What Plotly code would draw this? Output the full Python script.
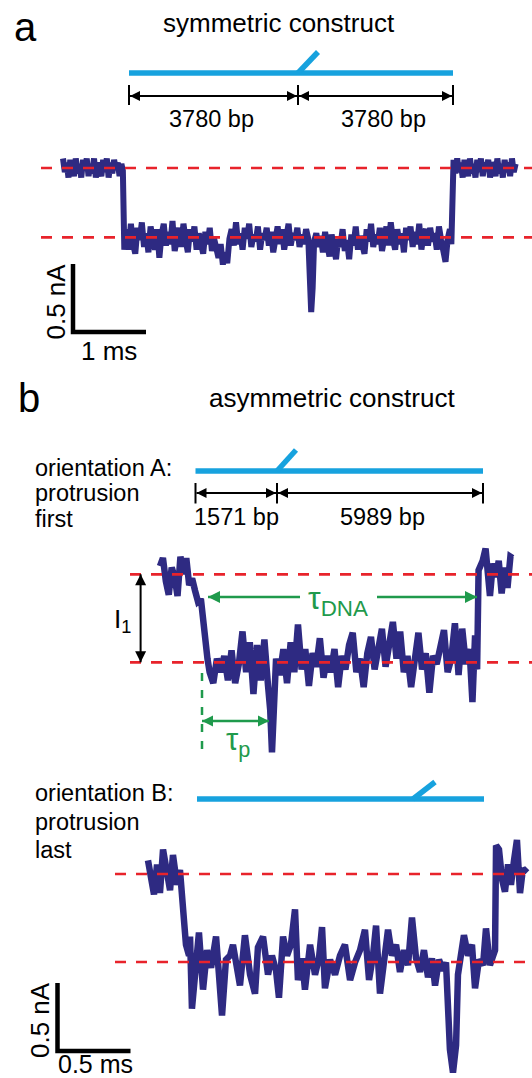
import plotly.graph_objects as go

W, H = 532, 1078
NAVY = "#2e2a82"
RED = "#e8232b"
BLUE = "#17a2de"
GREEN = "#1f9a4c"
FONT = "Liberation Sans, Arial, sans-serif"

# ---------------- data ----------------
# panel a (symmetric construct): time in ms, current relative to open-pore level in nA
t_a = [0.000, 0.025, 0.050, 0.075, 0.100, 0.125, 0.150, 0.175, 0.200, 0.225, 0.250, 0.275, 0.300, 0.325,
       0.350, 0.375, 0.400, 0.425, 0.450, 0.475, 0.500, 0.525, 0.550, 0.575, 0.600, 0.625, 0.650, 0.675,
       0.700, 0.725, 0.750, 0.775, 0.800,
       0.82, 0.84,
       0.87, 0.90, 0.93, 0.96, 0.99, 1.02, 1.05, 1.08, 1.11, 1.14,
       1.17, 1.20, 1.23, 1.26, 1.29, 1.32, 1.35, 1.38, 1.41, 1.44,
       1.47, 1.50, 1.53, 1.56, 1.59, 1.62, 1.65, 1.68, 1.71, 1.74,
       1.77, 1.80, 1.83, 1.86, 1.89, 1.92, 1.95, 1.98, 2.01, 2.04,
       2.07, 2.10, 2.13, 2.16, 2.19, 2.22, 2.25, 2.28, 2.31, 2.34,
       2.37, 2.40, 2.43, 2.46, 2.49, 2.52, 2.55, 2.58, 2.61, 2.64,
       2.67, 2.70, 2.73, 2.76, 2.79, 2.82, 2.85, 2.88, 2.91, 2.94,
       2.97, 3.00, 3.03, 3.06, 3.09, 3.12, 3.15, 3.18, 3.21, 3.24,
       3.27, 3.30, 3.33, 3.36, 3.38, 3.40, 3.42, 3.44, 3.47, 3.50,
       3.53, 3.56, 3.59, 3.62, 3.65, 3.68, 3.71, 3.74, 3.77, 3.80,
       3.83, 3.86, 3.89, 3.92, 3.95, 3.98, 4.01, 4.04, 4.07, 4.10,
       4.13, 4.16, 4.19, 4.22, 4.25, 4.28, 4.31, 4.34, 4.37, 4.40,
       4.43, 4.46, 4.49, 4.52, 4.55, 4.58, 4.61, 4.64, 4.67, 4.70,
       4.73, 4.76, 4.79, 4.82, 4.85, 4.88, 4.91, 4.94, 4.97, 5.00,
       5.03, 5.06, 5.09, 5.12, 5.15, 5.18, 5.21, 5.24, 5.27, 5.30,
       5.32,
       5.350, 5.375, 5.400, 5.425, 5.450, 5.475, 5.500, 5.525, 5.550, 5.575, 5.600, 5.625, 5.650, 5.675,
       5.700, 5.725, 5.750, 5.775, 5.800, 5.825, 5.850, 5.875, 5.900, 5.925, 5.950, 5.975, 6.000, 6.025,
       6.050, 6.075, 6.100, 6.125, 6.150, 6.175, 6.200]
i_a = [0.07, -0.03, 0.04, -0.07, 0.06, 0.00, -0.06, 0.07, -0.04, 0.03, -0.07, 0.06, -0.01, 0.07,
       -0.06, 0.03, -0.04, 0.07, -0.07, 0.04, 0.00, -0.06, 0.06, -0.03, 0.07, -0.07, 0.04, -0.04,
       0.06, -0.01, 0.04, -0.06, 0.03,
       -0.02, -0.60,
       -0.45, -0.60, -0.41, -0.56, -0.63, -0.44, -0.53, -0.40, -0.58, -0.48,
       -0.62, -0.43, -0.52, -0.60, -0.45, -0.66, -0.49, -0.41, -0.57, -0.47,
       -0.56, -0.39, -0.61, -0.49, -0.44, -0.58, -0.41, -0.53, -0.62, -0.45,
       -0.54, -0.43, -0.60, -0.48, -0.57, -0.63, -0.47, -0.56, -0.44, -0.61,
       -0.52, -0.58, -0.66, -0.56, -0.71, -0.62, -0.70, -0.52, -0.45, -0.57,
       -0.40, -0.56, -0.48, -0.60, -0.44, -0.52, -0.41, -0.58, -0.49, -0.54,
       -0.43, -0.60, -0.48, -0.53, -0.44, -0.57, -0.47, -0.62, -0.49, -0.43,
       -0.56, -0.45, -0.60, -0.50, -0.41, -0.57, -0.48, -0.53, -0.44, -0.58,
       -0.49, -0.56, -0.45, -0.52, -0.92, -1.06, -0.88, -0.54, -0.48, -0.58,
       -0.50, -0.62, -0.47, -0.57, -0.65, -0.49, -0.60, -0.67, -0.52, -0.58,
       -0.45, -0.61, -0.53, -0.67, -0.49, -0.57, -0.43, -0.60, -0.50, -0.56,
       -0.63, -0.45, -0.54, -0.41, -0.58, -0.49, -0.56, -0.44, -0.61, -0.52,
       -0.43, -0.57, -0.40, -0.53, -0.60, -0.45, -0.56, -0.48, -0.62, -0.44,
       -0.53, -0.43, -0.58, -0.47, -0.56, -0.41, -0.60, -0.49, -0.45, -0.57,
       -0.44, -0.54, -0.48, -0.60, -0.43, -0.53, -0.62, -0.69, -0.52, -0.45,
       -0.56,
       0.06, -0.04, 0.07, -0.03, 0.04, -0.07, 0.06, 0.00, -0.06, 0.07, -0.04, 0.03, -0.07, 0.06,
       -0.03, 0.07, -0.06, 0.04, -0.01, 0.06, -0.07, 0.04, 0.01, -0.06, 0.07, -0.04, 0.03, -0.07,
       0.06, -0.03, 0.04, -0.06, 0.07, -0.03, 0.03]
levels_a = [0.0, -0.51]

# panel b, orientation A (protrusion first)
t_bA = [0.00, 0.02, 0.04, 0.06, 0.08, 0.10, 0.12, 0.14, 0.16, 0.18, 0.20, 0.22,
        0.24, 0.26, 0.28, 0.295, 0.31, 0.325, 0.34,
        0.365, 0.39, 0.415, 0.44, 0.465, 0.49, 0.515, 0.54, 0.565, 0.59, 0.615, 0.64, 0.665, 0.69, 0.715, 0.74,
        0.755, 0.767, 0.78, 0.795, 0.82, 0.845, 0.87, 0.895, 0.92, 0.945, 0.97, 0.995, 1.02, 1.045, 1.07, 1.095,
        1.12, 1.145, 1.17, 1.195, 1.22, 1.245, 1.27, 1.295, 1.32, 1.345, 1.37, 1.395, 1.42, 1.445, 1.47, 1.495,
        1.52, 1.545, 1.57, 1.595, 1.62, 1.645, 1.67, 1.695, 1.72, 1.745, 1.77, 1.795, 1.82, 1.845, 1.87, 1.895,
        1.92, 1.945, 1.97, 1.995, 2.02, 2.045, 2.07, 2.095, 2.12, 2.14, 2.158, 2.172,
        2.182, 2.21, 2.23, 2.245, 2.26, 2.28, 2.30, 2.32, 2.34, 2.36, 2.38, 2.40, 2.415]
i_bA = [0.06, 0.12, -0.05, -0.15, 0.05, -0.02, -0.16, 0.13, 0.00, 0.12, -0.08, -0.03,
        -0.12, -0.20, -0.18, -0.36, -0.50, -0.62, -0.72,
        -0.80, -0.62, -0.72, -0.60, -0.78, -0.56, -0.80, -0.66, -0.42, -0.72, -0.50, -0.88, -0.52, -0.78, -0.48, -0.82,
        -1.00, -1.31, -1.05, -0.62, -0.74, -0.55, -0.80, -0.50, -0.72, -0.37, -0.70, -0.55, -0.82, -0.58, -0.68, -0.47,
        -0.76, -0.60, -0.72, -0.55, -0.83, -0.60, -0.70, -0.52, -0.43, -0.72, -0.62, -0.83, -0.58, -0.46, -0.70, -0.55,
        -0.40, -0.68, -0.48, -0.35, -0.62, -0.42, -0.72, -0.60, -0.83, -0.62, -0.43, -0.70, -0.58, -0.87, -0.60, -0.66,
        -0.52, -0.41, -0.72, -0.62, -0.36, -0.74, -0.40, -0.66, -0.55, -0.94, -0.45, -0.70,
        0.03, 0.10, 0.19, 0.05, -0.16, 0.08, -0.02, 0.10, -0.14, 0.05, -0.10, 0.13, 0.12]
levels_bA = [0.0, -0.647]

# panel b, orientation B (protrusion last)
t_bB = [0.000, 0.021, 0.041, 0.062, 0.082, 0.103, 0.123, 0.151, 0.171, 0.199, 0.219,
        0.240, 0.260, 0.281, 0.288, 0.301, 0.322, 0.349, 0.377, 0.404, 0.432, 0.466, 0.486, 0.507, 0.534,
        0.562, 0.582, 0.610, 0.630, 0.664, 0.699, 0.733, 0.753, 0.788, 0.822, 0.849, 0.877, 0.897, 0.925,
        0.952, 0.979, 1.007, 1.027, 1.055, 1.075, 1.110, 1.144, 1.171, 1.192, 1.212, 1.247, 1.281, 1.315,
        1.349, 1.384, 1.418, 1.452, 1.486, 1.514, 1.541, 1.562, 1.589, 1.616, 1.644, 1.671, 1.699, 1.726,
        1.753, 1.781, 1.808, 1.836, 1.863, 1.890, 1.918, 1.945, 1.966, 1.993, 2.021, 2.041, 2.055, 2.068,
        2.089, 2.110, 2.123, 2.144, 2.164, 2.192, 2.219, 2.240, 2.267, 2.295, 2.315, 2.342, 2.363, 2.377,
        2.384, 2.404, 2.425, 2.445, 2.466, 2.486, 2.507, 2.527, 2.548, 2.568, 2.596]
i_bB = [0.10, -0.01, -0.15, 0.07, -0.14, 0.18, 0.03, -0.12, 0.14, -0.08, 0.03,
        -0.30, -0.52, -0.60, -0.46, -0.99, -0.74, -0.43, -0.85, -0.56, -0.69, -0.46, -0.74, -1.04, -0.63,
        -0.60, -0.52, -0.71, -0.82, -0.45, -0.74, -0.88, -0.54, -0.46, -0.74, -0.60, -0.71, -0.91, -0.46,
        -0.60, -0.52, -0.26, -0.78, -0.62, -0.85, -0.52, -0.74, -0.62, -0.39, -0.84, -0.63, -0.74, -0.60,
        -0.52, -0.78, -0.65, -0.56, -0.41, -0.78, -0.60, -0.38, -0.88, -0.63, -0.41, -0.60, -0.52, -0.72,
        -0.56, -0.67, -0.32, -0.62, -0.72, -0.56, -0.76, -0.62, -0.82, -0.63, -0.71, -0.65, -0.93, -1.29,
        -1.46, -1.26, -0.74, -0.56, -0.45, -0.60, -0.52, -0.84, -0.63, -0.67, -0.40, -0.67, -0.62, -0.56,
        0.21, 0.18, -0.04, -0.13, 0.07, -0.08, 0.10, 0.25, -0.14, 0.04, 0.01]
levels_bB = [0.0, -0.647]

sym_segments = ["3780 bp", "3780 bp"]
asym_segments = ["1571 bp", "5989 bp"]
scale_a = {"ms": 1.0, "nA": 0.5, "t_label": "1 ms", "i_label": "0.5 nA"}
scale_b = {"ms": 0.5, "nA": 0.5, "t_label": "0.5 ms", "i_label": "0.5 nA"}

# ---------------- geometry (pixels) ----------------
def px(x):
    return x / W


def py(y):
    return 1 - y / H


PANELS = {
    "a": dict(x0=63, y0=168, sx=73, sy=136, top=140, bottom=370, ax="x", ay="y", lw=6),
    "bA": dict(x0=160, y0=574.3, sx=146, sy=136, top=540, bottom=770, ax="x2", ay="y2", lw=6.5),
    "bB": dict(x0=148, y0=874, sx=146, sy=136, top=830, bottom=1078, ax="x3", ay="y3", lw=6.5),
}


def tx(p, xp):
    return (xp - p["x0"]) / p["sx"]


def iy(p, yp):
    return -(yp - p["y0"]) / p["sy"]


fig = go.Figure()
layout_axes = {}
for n, key in enumerate(["a", "bA", "bB"]):
    p = PANELS[key]
    sfx = "" if n == 0 else str(n + 1)
    layout_axes["xaxis" + sfx] = dict(domain=[0, 1], range=[tx(p, 0), tx(p, W)], visible=False,
                                      anchor="y" + sfx, fixedrange=True)
    layout_axes["yaxis" + sfx] = dict(domain=[py(p["bottom"]), py(p["top"])],
                                      range=[iy(p, p["bottom"]), iy(p, p["top"])], visible=False,
                                      anchor="x" + sfx, fixedrange=True)
# overlay axis in pixel units for the annotation arrows
layout_axes["xaxis4"] = dict(domain=[0, 1], range=[0, W], visible=False, anchor="y4", fixedrange=True)
layout_axes["yaxis4"] = dict(domain=[0, 1], range=[H, 0], visible=False, anchor="x4", fixedrange=True)

traces = [("a", t_a, i_a, levels_a, 41), ("bA", t_bA, i_bA, levels_bA, 130), ("bB", t_bB, i_bB, levels_bB, 115)]
for key, t, i, lv, red_start in traces:
    p = PANELS[key]
    fig.add_trace(go.Scatter(x=t, y=i, mode="lines", xaxis=p["ax"], yaxis=p["ay"],
                             line=dict(color=NAVY, width=p["lw"]), hoverinfo="skip", showlegend=False))
for key, t, i, lv, red_start in traces:
    p = PANELS[key]
    for level in lv:
        fig.add_trace(go.Scatter(x=[tx(p, red_start), tx(p, W)], y=[level, level], mode="lines",
                                 xaxis=p["ax"], yaxis=p["ay"],
                                 line=dict(color=RED, width=2.7, dash="11px,10px"),
                                 hoverinfo="skip", showlegend=False))

# scale bars
for key, sc, bx, by in [("a", scale_a, 73, 264), ("bB", scale_b, 57.5, 983)]:
    p = PANELS[key]
    x0, y0 = tx(p, bx), iy(p, by)
    fig.add_trace(go.Scatter(x=[x0, x0, x0 + sc["ms"]], y=[y0, y0 - sc["nA"], y0 - sc["nA"]], mode="lines",
                             xaxis=p["ax"], yaxis=p["ay"], line=dict(color="black", width=4.5),
                             hoverinfo="skip", showlegend=False))

shapes = []
annotations = []


def line(x1, y1, x2, y2, color, width, dash=None):
    d = dict(type="line", xref="paper", yref="paper", x0=px(x1), y0=py(y1), x1=px(x2), y1=py(y2),
             line=dict(color=color, width=width))
    if dash:
        d["line"]["dash"] = dash
    shapes.append(d)


def text(s, x, y, size, color="black", xanchor="center", angle=0):
    annotations.append(dict(text=s, x=px(x), y=py(y), xref="paper", yref="paper", showarrow=False,
                            xanchor=xanchor, yanchor="middle", textangle=angle, borderpad=0,
                            font=dict(family=FONT, size=size, color=color)))


def arrow(x1, y1, x2, y2, color, width, head, both=True):
    """Arrow from (x1, y1) to (x2, y2) in pixels; heads drawn as arrow markers."""
    horiz = abs(y2 - y1) < abs(x2 - x1)
    if horiz:
        end_sym = "arrow-right" if x2 > x1 else "arrow-left"
        start_sym = "arrow-left" if x2 > x1 else "arrow-right"
    else:
        end_sym = "arrow-down" if y2 > y1 else "arrow-up"
        start_sym = "arrow-up" if y2 > y1 else "arrow-down"
    fig.add_trace(go.Scatter(x=[x1, x2], y=[y1, y2], mode="lines", xaxis="x4", yaxis="y4",
                             line=dict(color=color, width=width), hoverinfo="skip", showlegend=False))
    xs, ys, syms = [x2], [y2], [end_sym]
    if both:
        xs.append(x1)
        ys.append(y1)
        syms.append(start_sym)
    fig.add_trace(go.Scatter(x=xs, y=ys, mode="markers", xaxis="x4", yaxis="y4",
                             marker=dict(symbol=syms, size=head, color=color, line=dict(width=0)),
                             hoverinfo="skip", showlegend=False))


# construct schematics
def construct(xl, xr, xp, y, ptop_dx, ptop_y):
    line(xl, y, xr, y, BLUE, 5.5)
    line(xp, y, xp + ptop_dx, ptop_y, BLUE, 5.5)


construct(129, 453, 298, 73, 20, 52)
construct(195.5, 483, 277, 471, 19, 450)
construct(197, 484, 413, 799, 22, 782)


def dimension(xs, y_top, y_bot, y_arr, labels, label_x, label_y):
    for x in xs:
        line(x, y_top, x, y_bot, "black", 2)
    for k in range(len(xs) - 1):
        arrow(xs[k] + 1, y_arr, xs[k + 1] - 1, y_arr, "black", 2, 10)
    for lab, lx in zip(labels, label_x):
        text(lab, lx, label_y, 23.5)


dimension([129, 298, 453], 85, 105, 96, sym_segments, [211, 383], 119)
dimension([195.5, 277, 483], 483, 503.5, 493, asym_segments, [236, 382], 517)

# titles and panel letters
text("a", 25, 27, 40)
text("symmetric construct", 279, 23, 26)
text("b", 29, 398, 40)
text("asymmetric construct", 331.5, 398, 26)
for s, y in [("orientation A:", 468), ("protrusion", 493), ("first", 519)]:
    text(s, 34, y, 23.5, xanchor="left")
for s, y in [("orientation B:", 793), ("protrusion", 821.5), ("last", 850)]:
    text(s, 34, y, 23.5, xanchor="left")

# scale-bar labels
text(scale_a["i_label"], 55, 301.5, 26, angle=-90)
text(scale_a["t_label"], 109, 351, 26)
text(scale_b["i_label"], 40, 1020, 26, angle=-90)
text(scale_b["t_label"], 95, 1064, 25)

# annotations of panel b, orientation A
arrow(140.6, 574.3, 140.6, 662.3, "black", 2, 11)
text("I<sub>1</sub>", 122, 620, 26)
arrow(300, 597, 208, 597, GREEN, 2.5, 12, both=False)
arrow(377, 597, 477, 597, GREEN, 2.5, 12, both=False)
text("τ<sub>DNA</sub>", 338, 600, 32, color=GREEN)
line(202, 673, 202, 753, GREEN, 2.5, dash="8px,9px")
arrow(202, 721, 269, 721, GREEN, 2.5, 11)
text("τ<sub>p</sub>", 238, 742, 31, color=GREEN)

fig.update_layout(width=W, height=H, margin=dict(l=0, r=0, t=0, b=0, pad=0),
                  paper_bgcolor="white", plot_bgcolor="rgba(0,0,0,0)", showlegend=False,
                  shapes=shapes, annotations=annotations, **layout_axes)

fig.write_html("out.html")
